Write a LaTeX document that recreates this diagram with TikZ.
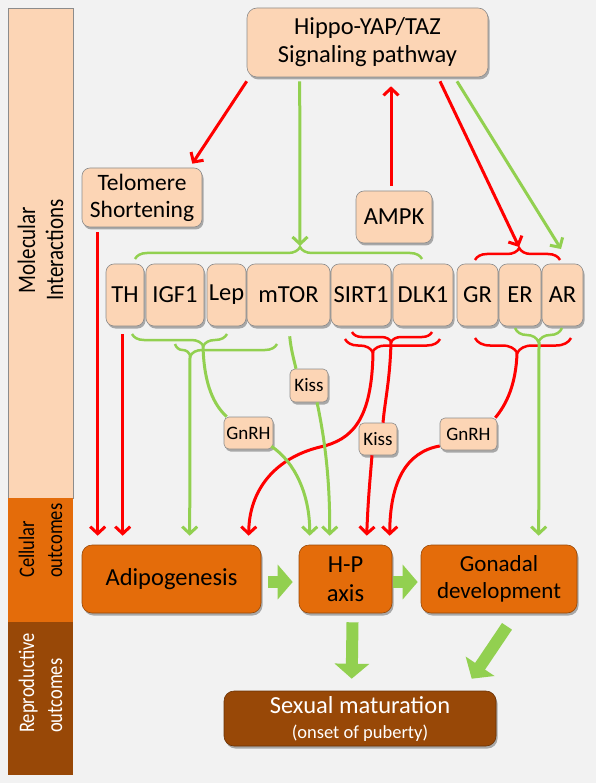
\documentclass[tikz,border=0pt]{standalone}
\usepackage{fontspec}
\setmainfont{Carlito}
\usetikzlibrary{arrows.meta,decorations.pathreplacing,shadows,calc}
\definecolor{peach}{HTML}{FCD5B5}
\definecolor{orng}{HTML}{E46C0A}
\definecolor{brwn}{HTML}{984807}
\definecolor{rd}{HTML}{FF0000}
\definecolor{grn}{HTML}{92D050}
\definecolor{bgc}{HTML}{F2F2F2}
\definecolor{edgec}{HTML}{8C8C8C}
\newcommand{\tallword}[1]{\scalebox{1}[1.2]{#1}}
\begin{document}
\begin{tikzpicture}[x=1pt,y=-1pt,
  shad/.style={drop shadow={shadow xshift=1.5pt,shadow yshift=-2.5pt,opacity=0.3,fill=black}},
  pbox/.style={draw=edgec,line width=0.6pt,fill=peach,rounded corners=8pt,inner sep=0pt,align=center,shad},
  rowbox/.style={pbox,minimum height=62pt,font=\fontsize{24.5}{28}\selectfont},
  smallbox/.style={pbox,rounded corners=5pt,minimum height=32pt,font=\fontsize{19}{22}\selectfont},
  obox/.style={draw=brwn,line width=0.6pt,fill=orng,rounded corners=10pt,inner sep=0pt,align=center,shad,minimum height=68pt,font=\fontsize{24.5}{29}\selectfont},
  rline/.style={draw=rd,line width=3pt},
  gline/.style={draw=grn,line width=3pt},
  rarr/.style={rline,-{Straight Barb[length=7pt,width=15pt]}},
  garr/.style={gline,-{Straight Barb[length=7pt,width=15pt]}},
  brc/.style n args={3}{draw=#1,line width=2.5pt,decorate,decoration={brace,amplitude=#2,aspect=#3}},
  brcm/.style n args={3}{draw=#1,line width=2.5pt,decorate,decoration={brace,mirror,amplitude=#2,aspect=#3}},
  blockarr/.style={draw=grn,line width=12pt,-{Triangle[length=15pt,width=34pt]}},
  barlabel/.style={rotate=90,align=left,inner sep=0pt,font=\fontsize{18.5}{28}\selectfont}
]
\useasboundingbox (0,0) rectangle (596,783);
\fill[bgc] (0,0) rectangle (596,783);

% left bar
\draw[fill=peach,draw=edgec,line width=0.6pt] (8,8) rectangle (73,498);
\fill[orng] (8,498) rectangle (73,622);
\fill[brwn] (8,622) rectangle (73,775);
\node[barlabel,align=center,font=\fontsize{21}{28}\selectfont] (lmol) at (40.5,250) {\tallword{Molecular}\\\tallword{Interactions}};
\node[barlabel,anchor=west] (lcell) at (40.5,578) {\tallword{Cellular}\\\tallword{outcomes}};
\node[barlabel,anchor=west,text=white] (lrep) at (40.5,733) {\tallword{Reproductive}\\\tallword{outcomes}};

% top boxes
\node[pbox,rounded corners=10pt,minimum width=241pt,minimum height=69pt,font=\fontsize{24.5}{28}\selectfont] (hippo) at (367.5,42.5) {Hippo-YAP/TAZ\\Signaling pathway};
\node[pbox,minimum width=120pt,minimum height=59pt,font=\fontsize{23.5}{27}\selectfont] (tel) at (142,197.5) {Telomere\\Shortening};
\node[pbox,minimum width=76pt,minimum height=52pt,font=\fontsize{24.5}{28}\selectfont] (ampk) at (394,217) {AMPK};

% row
\node[rowbox,minimum width=38pt] (th) at (125,295) {TH};
\node[rowbox,minimum width=58pt] (igf) at (175,295) {IGF1};
\node[rowbox,minimum width=39pt] (lep) at (226.5,295) {Lep};
\node[rowbox,minimum width=83pt] (mtor) at (288.5,295) {mTOR};
\node[rowbox,minimum width=60pt] (sirt) at (361,295) {SIRT1};
\node[rowbox,minimum width=60pt] (dlk) at (423,295) {DLK1};
\node[rowbox,minimum width=41pt] (gr) at (477.5,295) {GR};
\node[rowbox,minimum width=42pt] (er) at (520,295) {ER};
\node[rowbox,minimum width=41pt] (ar) at (562.5,295) {AR};

% small labels
\node[smallbox,minimum width=38pt,minimum height=33pt] (kiss1) at (309,385.5) {Kiss};
\node[smallbox,minimum width=49pt] (gnrh1) at (248.5,433) {GnRH};
\node[smallbox,minimum width=38pt] (kiss2) at (378,439) {Kiss};
\node[smallbox,minimum width=57pt] (gnrh2) at (468.5,434) {GnRH};

% outcome boxes
\node[obox,minimum width=179pt] (adi) at (171.5,579) {Adipogenesis};
\node[obox,minimum width=93pt] (hp) at (345.5,579) {H-P\\axis};
\node[obox,minimum width=156pt,font=\fontsize{23}{27}\selectfont] (gd) at (499,579) {Gonadal\\development};
\node[obox,fill=brwn,draw=brwn!70!black,text=white,minimum width=272pt,minimum height=55pt,font=\fontsize{24.5}{25}\selectfont] (sm) at (360,718.5) {Sexual maturation\\\fontsize{18.5}{20}\selectfont(onset of puberty)};

% braces
\draw[brc={grn}{12pt}{0.575}] (135,259) -- (422,259);
\draw[brc={rd}{12pt}{0.52}] (475,260) -- (560,260);
\draw[brcm={grn}{12pt}{0.75}] (132,334) -- (227,334);
\draw[brcm={grn}{12pt}{0.15}] (175,344) -- (277,344);
\draw[brcm={rd}{10pt}{0.49}] (352,332) -- (432,332);
\draw[brcm={rd}{13pt}{0.29}] (345,339) -- (440,339);
\draw[brcm={rd}{15pt}{0.44}] (475,338) -- (571,338);
\draw[brcm={grn}{14pt}{0.5}] (515,328) -- (562,328);
\coordinate (tgtip) at (300,246);
\coordinate (trtip) at (519,247);
\coordinate (trend) at (561,249);
\coordinate (gb1tip) at (203,346);
\coordinate (gb2tip) at (190,356);
\coordinate (rb1tip) at (391,342);
\coordinate (rb2tip) at (373,352);
\coordinate (rb3tip) at (517,353);
\coordinate (gb4tip) at (539,342);

% top arrows
\draw[rarr] ($(hippo.south west)+(0,4)$) -- ($(tel.north east)+(-10,-4)$);
\draw[garr] ($(hippo.south west)+(53,4)$) -- (tgtip);
\draw[rarr] ($(ampk.north)+(-3,-5)$) -- ($(hippo.south)+(23.5,9)$);
\draw[rarr] ($(hippo.south)+(72.5,4)$) -- (trtip);
\draw[garr] ($(hippo.south)+(89.5,4)$) -- (trend);

% to adipogenesis
\draw[rarr] ($(tel.south west)+(16,5)$) -- ($(adi.north west)+(16,-9)$);
\draw[rarr] ($(th.south west)+(17,8)$) -- ($(adi.north west)+(41,-9)$);
\draw[garr] (gb2tip) -- ($(adi.north west)+(108,-9)$);
\draw[rarr] (rb2tip) .. controls (372,420) and (352,440) .. (320,447) .. controls (275,458) and (249,490) .. ($(adi.north west)+(167,-9)$);

% to H-P axis
\draw[gline] (gb1tip) .. controls (204,385) and (214,405) .. ($(gnrh1.north west)+(3,0)$);
\draw[garr] ($(gnrh1.south east)+(-2,-3)$) .. controls (295,462) and (310,495) .. ($(hp.north west)+(11,-9)$);
\draw[gline] ($(mtor.south west)+(43,10)$) .. controls (291,350) and (294,360) .. ($(kiss1.north)+(-13,0)$);
\draw[garr] ($(kiss1.south)+(8,0)$) .. controls (325,440) and (330,480) .. ($(hp.north west)+(31,-9)$);
\draw[rline] (rb1tip) .. controls (390,380) and (385,400) .. ($(kiss2.north)+(5,0)$);
\draw[rarr] ($(kiss2.south)+(-6,0)$) .. controls (370,480) and (368,500) .. ($(hp.north west)+(68,-9)$);
\draw[rline] (rb3tip) .. controls (516,385) and (506,405) .. ($(gnrh2.north east)+(-2,0)$);
\draw[rarr] ($(gnrh2.west)+(0,12)$) .. controls (406,452) and (390,482) .. ($(hp.north west)+(91,-9)$);

% to gonadal
\draw[garr] (gb4tip) -- ($(gd.north west)+(118,-9)$);

% block arrows
\draw[blockarr] ($(adi.east)+(7,3)$) -- ($(hp.west)+(-6,3)$);
\draw[blockarr] ($(hp.east)+(1,3)$) -- ($(gd.west)+(-3,3)$);
\draw[blockarr] ($(hp.south)+(7,9)$) -- ($(sm.north west)+(128,-12)$);
\draw[blockarr] ($(gd.south)+(8,13)$) -- ($(sm.north west)+(248,-12)$);
\end{tikzpicture}
\end{document}
